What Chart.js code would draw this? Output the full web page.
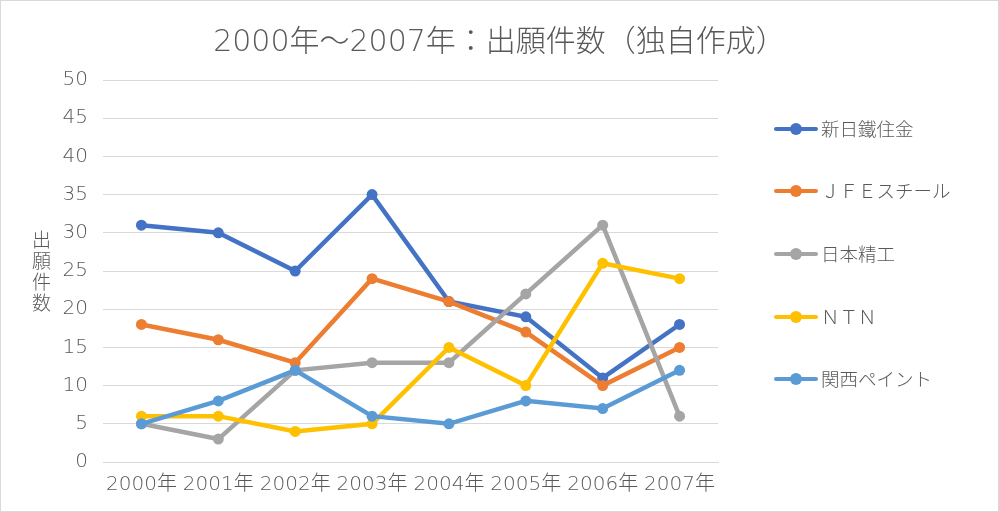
<!DOCTYPE html>
<html><head><meta charset="utf-8">
<script src="https://cdn.jsdelivr.net/npm/chart.js@4/dist/chart.umd.min.js"></script>
<style>
html,body{margin:0;padding:0;background:#fff;}
#wrap{position:relative;width:999px;height:512px;box-sizing:border-box;border:1px solid #d9d9d9;overflow:hidden;font-family:"DejaVu Sans","Noto Sans CJK JP",sans-serif;font-weight:200;color:#595959;}
#c{position:absolute;left:0;top:0;}
#title{position:absolute;left:6px;width:985px;top:15px;text-align:center;font-size:30px;color:#595959;white-space:nowrap;}
#ytitle{position:absolute;left:30px;top:227px;font-size:19px;line-height:21px;width:21px;text-align:center;font-family:"Noto Sans CJK JP",sans-serif;font-weight:300;}
.lg{position:absolute;left:773px;height:20px;font-size:18.5px;line-height:20px;}
.lg .ln{position:absolute;left:0;top:8px;width:44px;height:4px;border-radius:2px;}
.lg .dt{position:absolute;left:16px;top:4px;width:12px;height:12px;border-radius:50%;}
.lg .tx{position:absolute;left:47px;top:-1px;white-space:nowrap;font-family:"Noto Sans CJK JP",sans-serif;font-weight:300;}
</style></head>
<body>
<div id="wrap">
<canvas id="c" width="997" height="510"></canvas>
<div id="title">2000年～2007年：出願件数（独自作成）</div>
<div id="ytitle">出<br>願<br>件<br>数</div>
<div id="legend"></div>
</div>
<script>
const categories = ['2000年','2001年','2002年','2003年','2004年','2005年','2006年','2007年'];
const seriesNames = ['新日鐵住金','ＪＦＥスチール','日本精工','ＮＴＮ','関西ペイント'];
const nipponSteel = [31,30,25,35,21,19,11,18];
const jfeSteel = [18,16,13,24,21,17,10,15];
const nsk = [5,3,12,13,13,22,31,6];
const ntn = [6,6,4,5,15,10,26,24];
const kansaiPaint = [5,8,12,6,5,8,7,12];
const colors = ['#4472C4','#ED7D31','#A5A5A5','#FFC000','#5B9BD5'];
const allSeries = [nipponSteel,jfeSteel,nsk,ntn,kansaiPaint];

const legend = document.getElementById('legend');
const legendY = [118,180,243,306,368];
seriesNames.forEach((n,i)=>{
  const d=document.createElement('div');d.className='lg';d.style.top=legendY[i]+'px';
  d.innerHTML='<div class="ln" style="background:'+colors[i]+'"></div><div class="dt" style="background:'+colors[i]+'"></div><div class="tx">'+n+'</div>';
  legend.appendChild(d);
});

const font = {family:'"DejaVu Sans","Noto Sans CJK JP",sans-serif', size:20, weight:200};
new Chart(document.getElementById('c'),{
  type:'line',
  data:{labels:categories,datasets:allSeries.map((d,i)=>({
    label:seriesNames[i],data:d,borderColor:colors[i],backgroundColor:colors[i],
    borderWidth:4.5,pointRadius:5.5,pointHoverRadius:5.5,pointBorderWidth:0,
    tension:0,order:5-i
  }))},
  options:{
    responsive:false,animation:false,
    layout:{padding:{left:0,top:79,right:280,bottom:0}},
    plugins:{legend:{display:false},title:{display:false},tooltip:{enabled:false}},
    scales:{
      x:{offset:true,grid:{display:false,drawTicks:false},border:{display:true,color:'#d9d9d9',width:1},
        ticks:{color:'#595959',font:font,padding:11,maxRotation:0,autoSkip:false},
        afterFit:(s)=>{s.height=49;}},
      y:{min:0,max:50,grid:{color:'#d9d9d9',lineWidth:1,drawTicks:false},border:{display:false},
        ticks:{stepSize:5,color:'#595959',font:font,padding:15},
        afterFit:(s)=>{s.width=102;}}
    }
  }
});
</script>
</body></html>
